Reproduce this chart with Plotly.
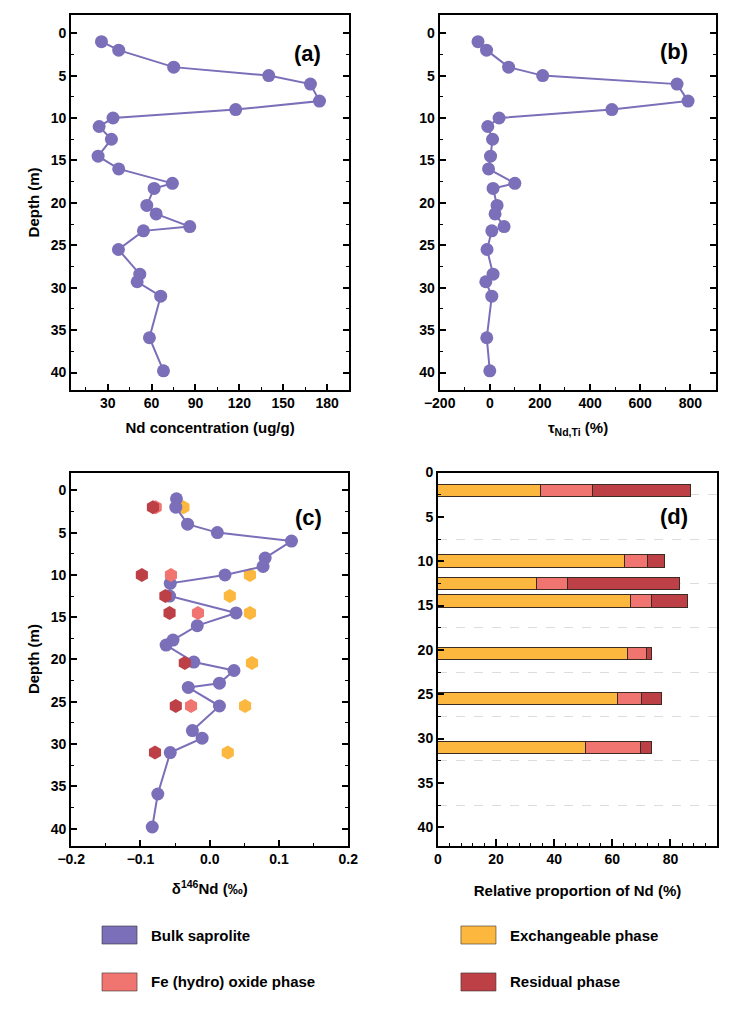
import plotly.graph_objects as go

# depth of bulk saprolite samples (m)
depth_bulk = [1, 2, 4, 5, 6, 8, 9, 10, 11, 12.5, 14.5, 16, 17.7, 18.3, 20.3, 21.3,
              22.8, 23.3, 25.5, 28.4, 29.3, 31, 35.9, 39.8]
nd_conc = [25.7, 37.5, 75.1, 140.1, 168.6, 174.8, 117.5, 33.6, 24.1, 32.5, 23.4, 37.5,
           74.2, 61.7, 56.7, 63.1, 86.1, 54.4, 37.3, 51.9, 50.1, 66.2, 58.5, 68.1]
tau_nd_ti = [-47, -13, 75, 211, 747, 791, 487, 37, -8, 11, 3, -5,
             100, 13, 29, 21, 57, 8, -11, 13, -16, 8, -12, 0]
delta_bulk = [-0.048, -0.049, -0.032, 0.011, 0.118, 0.080, 0.077, 0.022, -0.057, -0.058,
              0.038, -0.018, -0.053, -0.063, -0.023, 0.035, 0.014, -0.031, 0.014, -0.025,
              -0.011, -0.057, -0.075, -0.083]

# sequential extraction samples
phase_depth = [2, 10, 12.5, 14.5, 20.4, 25.5, 31]
delta_exch = [-0.038, 0.058, 0.029, 0.058, 0.061, 0.051, 0.026]
delta_fe = [-0.078, -0.056, None, -0.017, None, -0.027, None]
delta_res = [-0.082, -0.098, -0.064, -0.058, -0.036, -0.049, -0.079]
prop_exch = [35.6, 64.4, 34.1, 66.5, 65.3, 62.0, 51.0]
prop_fe = [17.9, 7.7, 10.7, 7.2, 6.7, 8.1, 18.7]
prop_res = [33.4, 6.1, 38.4, 12.3, 1.6, 7.1, 4.1]

legend_names = ["Bulk saprolite", "Exchangeable phase", "Fe (hydro) oxide phase", "Residual phase"]
panel_labels = ["(a)", "(b)", "(c)", "(d)"]

PURPLE = "#7A6FB8"
ORANGE = "#FCB83E"
SALMON = "#F07570"
DARKRED = "#BD4047"
legend_colors = [PURPLE, ORANGE, SALMON, DARKRED]
FONT = "Arial, Liberation Sans, sans-serif"

# page body adds an 8px offset; shift paper positions to compensate
DX = 8 / 734
DY = 8 / 1025

fig = go.Figure()

bulk_style = dict(mode="lines+markers", line=dict(color=PURPLE, width=2),
                  marker=dict(size=13, color=PURPLE), showlegend=False)
hex_style = dict(xaxis="x3", yaxis="y3", mode="markers", showlegend=False)

fig.add_trace(go.Scatter(x=nd_conc, y=depth_bulk, xaxis="x", yaxis="y", **bulk_style))
fig.add_trace(go.Scatter(x=tau_nd_ti, y=depth_bulk, xaxis="x2", yaxis="y2", **bulk_style))

fig.add_trace(go.Scatter(x=delta_exch, y=phase_depth,
                         marker=dict(symbol="hexagon", size=14, color=ORANGE), **hex_style))
fig.add_trace(go.Scatter(x=delta_bulk, y=depth_bulk, xaxis="x3", yaxis="y3", **bulk_style))
fig.add_trace(go.Scatter(x=delta_fe, y=phase_depth,
                         marker=dict(symbol="hexagon", size=14, color=SALMON), **hex_style))
fig.add_trace(go.Scatter(x=delta_res, y=phase_depth,
                         marker=dict(symbol="hexagon", size=14, color=DARKRED), **hex_style))

for vals, col in [(prop_exch, ORANGE), (prop_fe, SALMON), (prop_res, DARKRED)]:
    fig.add_trace(go.Bar(x=vals, y=phase_depth, orientation="h", xaxis="x4", yaxis="y4",
                         width=1.4, marker=dict(color=col, line=dict(color="#3b2b22", width=1)),
                         showlegend=False))

tickfont = dict(family=FONT, size=14, color="black", weight="bold")
titlefont = dict(family=FONT, size=15, color="black", weight="bold")


def xax(domain, anchor, rng, dtick, minor, title, standoff=12, **kw):
    d = dict(domain=[domain[0] - DX, domain[1] - DX], anchor=anchor, range=rng, dtick=dtick,
             automargin=False, showline=True, linecolor="black", linewidth=2, mirror=True,
             ticks="inside", ticklen=6, tickwidth=1.5, tickcolor="black",
             minor=dict(dtick=minor, ticks="inside", ticklen=3, tickwidth=1.2, tickcolor="black"),
             showgrid=False, zeroline=False, tickfont=tickfont,
             title=dict(text=title, font=titlefont, standoff=standoff))
    d.update(kw)
    return d


def yax(domain, anchor, rng, title=None, mirror="ticks", **kw):
    d = dict(domain=[domain[0] + DY, domain[1] + DY], anchor=anchor, range=rng, dtick=5,
             tick0=0, automargin=False, showline=True, linecolor="black", linewidth=2,
             mirror=mirror, ticks="inside", ticklen=6, tickwidth=1.5, tickcolor="black",
             minor=dict(dtick=2.5, tick0=0, ticks="inside", ticklen=3, tickwidth=1.2,
                        tickcolor="black"),
             showgrid=False, zeroline=False, tickfont=tickfont)
    if title:
        d["title"] = dict(text=title, font=titlefont, standoff=8)
    d.update(kw)
    return d


top = [0.620, 0.985]
bot = [0.175, 0.539]

fig.update_layout(
    width=734, height=1025,
    margin=dict(l=0, r=0, t=0, b=0),
    paper_bgcolor="white", plot_bgcolor="white",
    font=dict(family=FONT, color="black"),
    barmode="stack", bargap=0,
    showlegend=False,
    xaxis=xax([0.097, 0.4755], "y", [5, 195], 30, 15, "Nd concentration (ug/g)"),
    yaxis=yax(top, "x", [42, -2.1], "Depth (m)"),
    xaxis2=xax([0.599, 0.976], "y2", [-200, 904], 200, 100, "τ<sub>Nd,Ti</sub> (%)"),
    yaxis2=yax(top, "x2", [42, -2.1]),
    xaxis3=xax([0.097, 0.4745], "y3", [-0.2, 0.2], 0.1, 0.05, "δ<sup>146</sup>Nd (‰)",
               standoff=17, tickformat=".1f"),
    yaxis3=yax(bot, "x3", [42, -2.1], "Depth (m)"),
    xaxis4=xax([0.5967, 0.9768], "y4", [0, 96], 20, 4, "Relative proportion of Nd (%)",
               standoff=19, ticklen=7),
    yaxis4=yax(bot, "x4", [42.07, 0], mirror=True,
               minor=dict(dtick=5, tick0=2.5, ticks="inside", ticklen=3, tickwidth=1.2,
                          tickcolor="black", showgrid=True, gridcolor="#dddddd",
                          griddash="dash", gridwidth=1)),
)

# panel labels
label_pos = [("x", "y", 0.85, 0.898), ("x2", "y2", 0.846, 0.904),
             ("x3", "y3", 0.856, 0.88), ("x4", "y4", 0.845, 0.881)]
for lab, (xr, yr, px, py) in zip(panel_labels, label_pos):
    fig.add_annotation(text="<b>%s</b>" % lab, xref=xr + " domain", yref=yr + " domain",
                       x=px, y=py, xanchor="center", yanchor="middle", showarrow=False,
                       font=dict(family=FONT, size=22, color="black"))

# legend drawn as swatches below the panels
sw_x = [0.139, 0.628, 0.139, 0.628]
sw_y = [0.0878, 0.0878, 0.042, 0.042]
for name, col, lx, ly in zip(legend_names, legend_colors, sw_x, sw_y):
    lx, ly = lx - DX, ly + DY
    fig.add_shape(type="rect", xref="paper", yref="paper", x0=lx, x1=lx + 0.0477,
                  y0=ly - 0.0088, y1=ly + 0.0088, fillcolor=col,
                  line=dict(color="rgba(60,50,50,0.6)", width=1))
    fig.add_annotation(text="<b>%s</b>" % name, xref="paper", yref="paper", x=lx + 0.064, y=ly,
                       xanchor="left", yanchor="middle", showarrow=False,
                       font=dict(family=FONT, size=15, color="black"))

fig.write_html("out.html")
